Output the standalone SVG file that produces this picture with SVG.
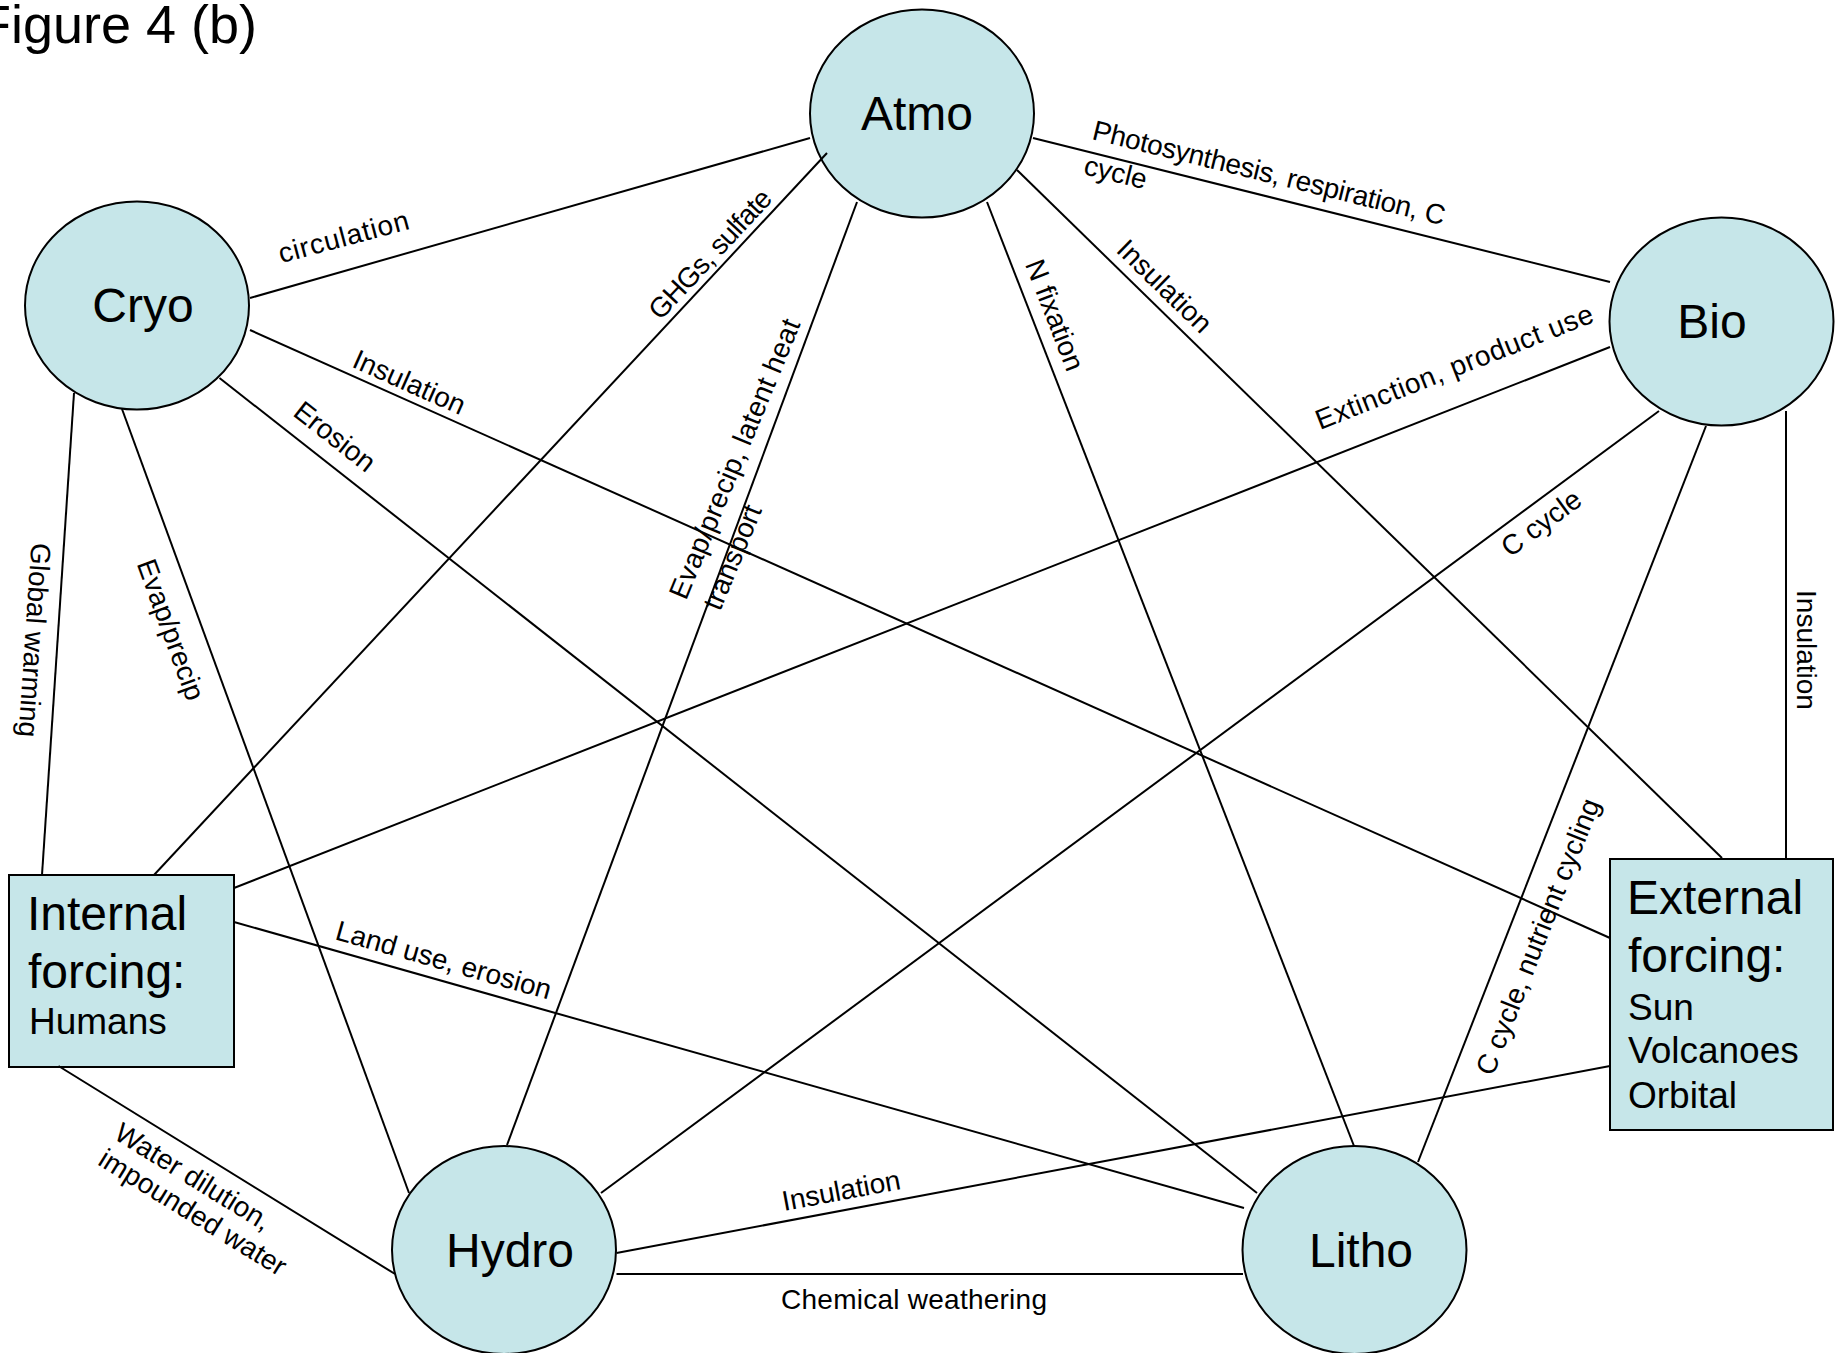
<svg xmlns="http://www.w3.org/2000/svg" width="1845" height="1353" viewBox="0 0 1845 1353">
  <style>
    .node { fill: #C6E6E9; stroke: #000; stroke-width: 2; }
    .edge { stroke: #000; stroke-width: 2; fill: none; }
    text { font-family: "Liberation Sans", Arial, sans-serif; fill: #000; }
    .big { font-size: 48px; }
    .small { font-size: 37px; }
    .lbl { font-size: 28px; }
    .title { font-size: 54px; }
  </style>
  <rect width="1845" height="1353" fill="#fff"/>

  <text class="title" x="-22" y="43">Figure 4 (b)</text>

  <!-- spheres -->
  <g id="node-cryo">
    <ellipse class="node" cx="137" cy="305.5" rx="112" ry="104"/>
    <text class="big" x="143" y="322" text-anchor="middle">Cryo</text>
  </g>
  <g id="node-atmo">
    <ellipse class="node" cx="922" cy="113.5" rx="112" ry="104"/>
    <text class="big" x="917" y="130" text-anchor="middle">Atmo</text>
  </g>
  <g id="node-bio">
    <ellipse class="node" cx="1721.5" cy="321.5" rx="112" ry="104"/>
    <text class="big" x="1712" y="338" text-anchor="middle">Bio</text>
  </g>
  <g id="node-hydro">
    <ellipse class="node" cx="504" cy="1250" rx="112" ry="104"/>
    <text class="big" x="510" y="1267" text-anchor="middle">Hydro</text>
  </g>
  <g id="node-litho">
    <ellipse class="node" cx="1354.5" cy="1250" rx="112" ry="104"/>
    <text class="big" x="1361" y="1267" text-anchor="middle">Litho</text>
  </g>

  <!-- forcing boxes -->
  <g id="node-internal">
    <rect class="node" x="9" y="875" width="225" height="192"/>
    <text class="big" x="27" y="930">Internal</text>
    <text class="big" x="28" y="988">forcing:</text>
    <text class="small" x="29" y="1034">Humans</text>
  </g>
  <g id="node-external">
    <rect class="node" x="1610" y="859" width="223" height="271"/>
    <text class="big" x="1627" y="914">External</text>
    <text class="big" x="1628" y="972">forcing:</text>
    <text class="small" x="1628" y="1020">Sun</text>
    <text class="small" x="1628" y="1063">Volcanoes</text>
    <text class="small" x="1628" y="1108">Orbital</text>
  </g>

  <!-- couplings between components -->
  <g id="connectors">
    <line class="edge" x1="250" y1="298" x2="810" y2="138"/>
    <line class="edge" x1="250" y1="330" x2="1610" y2="938"/>
    <line class="edge" x1="219.5" y1="378" x2="1257" y2="1193"/>
    <line class="edge" x1="74" y1="393" x2="42" y2="875"/>
    <line class="edge" x1="122" y1="409" x2="409" y2="1193"/>
    <line class="edge" x1="827" y1="153" x2="154" y2="875"/>
    <line class="edge" x1="857" y1="202" x2="507" y2="1145"/>
    <line class="edge" x1="987" y1="202" x2="1354" y2="1146"/>
    <line class="edge" x1="1017" y1="170" x2="1722" y2="858"/>
    <line class="edge" x1="1033" y1="138" x2="1610" y2="282"/>
    <line class="edge" x1="1610" y1="347" x2="234" y2="888"/>
    <line class="edge" x1="1659" y1="411" x2="601" y2="1193"/>
    <line class="edge" x1="1706" y1="426" x2="1418" y2="1162"/>
    <line class="edge" x1="1786" y1="411" x2="1786" y2="858"/>
    <line class="edge" x1="234" y1="922" x2="1244" y2="1208"/>
    <line class="edge" x1="58.5" y1="1066" x2="395" y2="1274"/>
    <line class="edge" x1="616.5" y1="1253" x2="1610" y2="1066"/>
    <line class="edge" x1="616.5" y1="1274" x2="1243" y2="1274"/>
  </g>

  <g id="edge-labels" class="lbl">
    <text class="lbl" text-anchor="middle" textLength="134" transform="translate(346 246) rotate(-15)">circulation</text>
    <text class="lbl" text-anchor="middle" transform="translate(405.5 391) rotate(24)">Insulation</text>
    <text class="lbl" text-anchor="middle" transform="translate(329 444) rotate(38.1)">Erosion</text>
    <text class="lbl" text-anchor="middle" transform="translate(25 639.5) rotate(93.8)">Global warming</text>
    <text class="lbl" text-anchor="middle" transform="translate(162 633) rotate(69.9)">Evap/precip</text>
    <text class="lbl" text-anchor="middle" textLength="166" transform="translate(717 260.5) rotate(-47)">GHGs, sulfate</text>
    <text class="lbl" textLength="300" transform="translate(686 601) rotate(-67.5)">Evap/precip, latent heat</text>
    <text class="lbl" transform="translate(720 612) rotate(-67.5)">transport</text>
    <text class="lbl" text-anchor="middle" transform="translate(1046 318.5) rotate(68.75)">N fixation</text>
    <text class="lbl" text-anchor="middle" transform="translate(1158 293) rotate(44.3)">Insulation</text>
    <text class="lbl" textLength="362" transform="translate(1091 139) rotate(13.8)">Photosynthesis, respiration, C</text>
    <text class="lbl" transform="translate(1082.4 174) rotate(13.8)">cycle</text>
    <text class="lbl" textLength="296" transform="translate(1320 430) rotate(-21.5)">Extinction, product use</text>
    <text class="lbl" transform="translate(1510 558) rotate(-36.5)">C cycle</text>
    <text class="lbl" transform="translate(1493 1077) rotate(-68.6)">C cycle, nutrient cycling</text>
    <text class="lbl" text-anchor="middle" transform="translate(1797 650) rotate(90)">Insulation</text>
    <text class="lbl" transform="translate(334 939) rotate(15.8)">Land use, erosion</text>
    <text class="lbl" transform="translate(112.5 1138) rotate(31.7)">Water dilution,</text>
    <text class="lbl" transform="translate(96.5 1164) rotate(31.7)">impounded water</text>
    <text class="lbl" transform="translate(784 1211) rotate(-10.66)">Insulation</text>
    <text class="lbl" x="781" y="1309" textLength="266">Chemical weathering</text>
  </g>
</svg>
